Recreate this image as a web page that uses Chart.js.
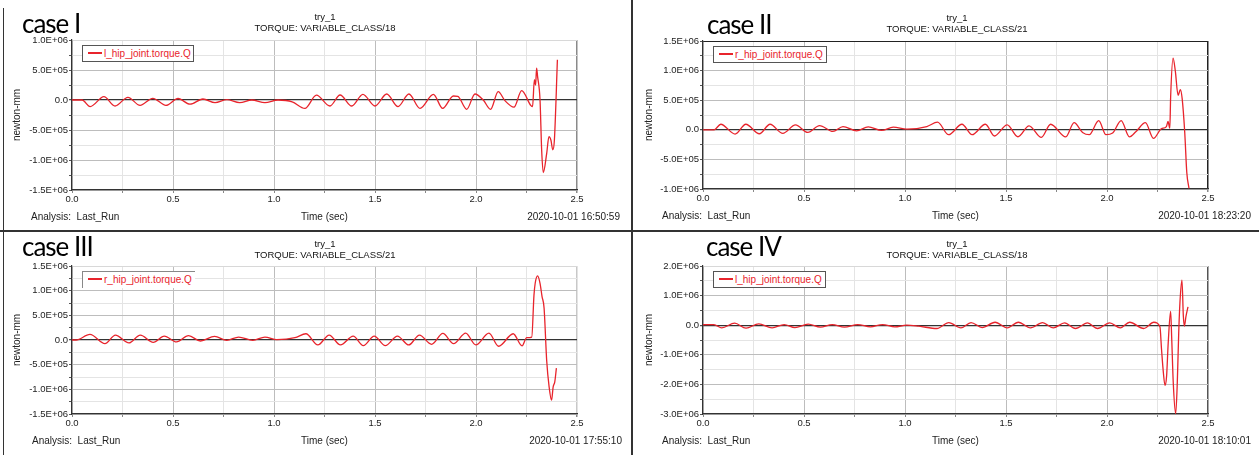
<!DOCTYPE html>
<html lang="en">
<head>
  <meta charset="UTF-8" />
  <title>try_1 - hip joint torque, cases I-IV</title>
  <script src="https://cdn.jsdelivr.net/npm/chart.js"></script>
  <style>
    body {
      margin: 0;
      background: #fff;
      font-family: "Liberation Sans", Arial, sans-serif;
    }
    #page {
      position: relative;
      width: 1259px;
      height: 455px;
      overflow: hidden;
      background: #fff;
    }
    canvas { position: absolute; }
    .case {
      position: absolute;
      font-family: Lato, sans-serif;
      font-size: 26px;
      line-height: 26px;
      letter-spacing: -1px;
      color: #000;
      white-space: nowrap;
    }
    .title {
      position: absolute;
      width: 300px;
      text-align: center;
      font-size: 9.5px;
      line-height: 11px;
      color: #111;
    }
    .foot {
      position: absolute;
      font-size: 10px;
      line-height: 12px;
      color: #222;
      white-space: pre;
    }
    .legend {
      position: absolute;
      height: 17px;
      box-sizing: border-box;
      border: 1px solid #555;
      background: #fff;
      font-size: 10px;
      line-height: 15px;
      color: #e8242c;
      white-space: nowrap;
    }
    .legend i {
      display: inline-block;
      width: 14px;
      height: 2px;
      background: #e8242c;
      vertical-align: middle;
      margin: 0 2px 0 5px;
      position: relative;
      top: -1px;
    }
    .rule { position: absolute; background: #333; }
  </style>
</head>
<body>
  <div id="page">
    <canvas id="chart1" width="630" height="228" style="left:0;top:0"></canvas>
    <canvas id="chart2" width="627" height="228" style="left:632px;top:0"></canvas>
    <canvas id="chart3" width="630" height="226" style="left:0;top:229px"></canvas>
    <canvas id="chart4" width="627" height="226" style="left:632px;top:229px"></canvas>

    <div class="case" style="left:22px;top:10px">case I</div>
    <div class="case" style="left:707px;top:11px">case II</div>
    <div class="case" style="left:22px;top:233px">case III</div>
    <div class="case" style="left:706px;top:233px">case IV</div>

    <div class="title" style="left:175px;top:11px">try_1<br>TORQUE: VARIABLE_CLASS/18</div>
    <div class="title" style="left:807px;top:12px">try_1<br>TORQUE: VARIABLE_CLASS/21</div>
    <div class="title" style="left:175px;top:238px">try_1<br>TORQUE: VARIABLE_CLASS/21</div>
    <div class="title" style="left:807px;top:238px">try_1<br>TORQUE: VARIABLE_CLASS/18</div>

    <div class="legend" style="left:82px;top:45px;width:112px"><i></i>l_hip_joint.torque.Q</div>
    <div class="legend" style="left:713px;top:46px;width:114px"><i></i>r_hip_joint.torque.Q</div>
    <div class="legend" style="left:82px;top:271px;width:113px;border-color:#888;border-right:none;border-bottom:none"><i></i>r_hip_joint.torque.Q</div>
    <div class="legend" style="left:713px;top:271px;width:113px"><i></i>l_hip_joint.torque.Q</div>

    <div class="foot" style="left:31px;top:211px">Analysis:  Last_Run</div>
    <div class="foot" style="right:639px;top:211px">2020-10-01 16:50:59</div>
    <div class="foot" style="left:662px;top:210px">Analysis:  Last_Run</div>
    <div class="foot" style="right:8px;top:210px">2020-10-01 18:23:20</div>
    <div class="foot" style="left:32px;top:435px">Analysis:  Last_Run</div>
    <div class="foot" style="right:637px;top:435px">2020-10-01 17:55:10</div>
    <div class="foot" style="left:662px;top:435px">Analysis:  Last_Run</div>
    <div class="foot" style="right:8px;top:435px">2020-10-01 18:10:01</div>

    <div class="rule" style="left:631px;top:0;width:2px;height:455px"></div>
    <div class="rule" style="left:0;top:230px;width:1259px;height:2px"></div>
    <div class="rule" style="left:3px;top:8px;width:1px;height:447px"></div>
  </div>

  <script>
    // valeurs (temps en s, couple en newton-mm)
    const case1Time = [0, 0.05, 0.09, 0.158, 0.213, 0.277, 0.337, 0.40, 0.465, 0.525, 0.584, 0.648, 0.708, 0.767, 0.83, 0.89, 0.955, 1.02, 1.09, 1.153, 1.21, 1.277, 1.327, 1.385, 1.44, 1.5, 1.558, 1.614, 1.668, 1.723, 1.789, 1.835, 1.888, 1.91, 1.954, 1.995, 2.036, 2.072, 2.11, 2.143, 2.188, 2.226, 2.272, 2.28, 2.289, 2.295, 2.3, 2.305, 2.317, 2.325, 2.333, 2.35, 2.361, 2.371, 2.38, 2.388, 2.403];
    const case1Torque = [0, 0, -1.1e5, 5.5e4, -1.0e5, 4.5e4, -9e4, 2.8e4, -9e4, 2.5e4, -7e4, 1.7e4, -4.5e4, 5e3, -4.5e4, 0, -4.5e4, 0, -3e4, -1.4e5, 8e4, -1e5, 8.3e4, -1e5, 9.4e4, -1e5, 1e5, -1.1e5, 1e5, -1.4e5, 9.4e4, -1.4e5, 6.7e4, 6e4, -1.55e5, 1e5, 0, -1.55e5, 1.4e5, -1e4, -1.2e5, 1.55e5, -9.4e4, -1.1e5, 3.4e5, 2.5e5, 5.3e5, 3.9e5, 0, -8.3e5, -1.21e6, -8.9e5, -6.1e5, -6.7e5, -8.3e5, -6.7e5, 6.7e5];

    const case2Time = [0, 0.055, 0.088, 0.159, 0.212, 0.279, 0.332, 0.395, 0.458, 0.519, 0.577, 0.643, 0.693, 0.76, 0.818, 0.884, 0.942, 1.009, 1.108, 1.161, 1.216, 1.282, 1.332, 1.398, 1.443, 1.506, 1.559, 1.614, 1.675, 1.721, 1.796, 1.837, 1.879, 1.912, 1.959, 1.995, 2.028, 2.07, 2.111, 2.144, 2.19, 2.23, 2.269, 2.294, 2.302, 2.311, 2.315, 2.327, 2.338, 2.352, 2.363, 2.372, 2.385, 2.395, 2.406];
    const case2Torque = [0, 0, 9.4e4, -7.2e4, 9.4e4, -6.7e4, 9.4e4, -6.1e4, 8.3e4, -4.4e4, 7.2e4, -2.8e4, 5.5e4, -1.7e4, 5e4, -1.1e4, 4.4e4, 1.1e4, 5.5e4, 1.28e5, -8.3e4, 9.4e4, -8.3e4, 9.4e4, -1.05e5, 8.3e4, -1.17e5, 6.7e4, -1.28e5, 9.4e4, -1.2e5, 1.2e5, -4.4e4, -8.3e4, 1.55e5, -8.3e4, -5.5e4, 1.55e5, -1.2e5, -2.8e4, 1.2e5, -1.45e5, 1.7e4, 5.5e4, 1.4e5, 2.8e4, 5.5e5, 1.21e6, 1.0e6, 5.8e5, 6.8e5, 5.3e5, -5.5e4, -7.2e5, -9.9e5];

    const case3Time = [0, 0.02, 0.089, 0.163, 0.215, 0.282, 0.338, 0.402, 0.457, 0.517, 0.577, 0.636, 0.706, 0.766, 0.825, 0.895, 0.955, 1.014, 1.104, 1.158, 1.217, 1.273, 1.329, 1.392, 1.442, 1.496, 1.551, 1.611, 1.667, 1.72, 1.78, 1.836, 1.889, 1.949, 1.999, 2.064, 2.112, 2.184, 2.228, 2.251, 2.276, 2.287, 2.293, 2.305, 2.317, 2.327, 2.337, 2.35, 2.362, 2.374, 2.382, 2.39, 2.398];
    const case3Torque = [0, 0, 1.13e5, -7.3e4, 1.0e5, -6e4, 1.0e5, -4.7e4, 8e4, -4e4, 8.7e4, -2e4, 7.3e4, -7e3, 6e4, -7e3, 6e4, 7e3, 4.7e4, 1.27e5, -1.0e5, 1.0e5, -1.0e5, 8e4, -1.13e5, 8e4, -1.13e5, 8e4, -1.0e5, 1.0e5, -8.7e4, 1.33e5, -7.3e4, 1.4e5, -1.0e5, 1.4e5, -1.27e5, 1.27e5, -1.2e5, 4.7e4, 6e4, 9.1e5, 1.15e6, 1.3e6, 1.15e6, 8.8e5, 6.5e5, -4.2e5, -9.5e5, -1.22e6, -9.5e5, -8.5e5, -5.7e5];

    const case4Time = [0, 0.054, 0.093, 0.157, 0.213, 0.276, 0.342, 0.402, 0.455, 0.521, 0.581, 0.64, 0.7, 0.766, 0.829, 0.889, 0.949, 1.008, 1.068, 1.158, 1.217, 1.277, 1.327, 1.382, 1.446, 1.506, 1.561, 1.621, 1.681, 1.734, 1.79, 1.844, 1.903, 1.953, 2.013, 2.066, 2.112, 2.182, 2.232, 2.262, 2.27, 2.279, 2.287, 2.295, 2.303, 2.315, 2.32, 2.328, 2.34, 2.348, 2.355, 2.361, 2.371, 2.378, 2.383, 2.391, 2.401];
    const case4Torque = [2e4, 2e4, -9e4, 6.7e4, -1.0e5, 4.5e4, -9e4, 2.2e4, -7.9e4, 3.4e4, -6.7e4, 2.2e4, -6.7e4, 2.2e4, -5.6e4, 2.2e4, -5.6e4, 0, -3.4e4, -1.12e5, 9e4, -9e4, 9e4, -7.9e4, 1.0e5, -9e4, 1.0e5, -9e4, 9e4, -9e4, 7.9e4, -1.12e5, 7.9e4, -1.12e5, 7.9e4, -9e4, 1.0e5, -1.12e5, 1.0e5, -5.6e4, -8.2e5, -1.6e6, -2.03e6, -1.72e6, -6e5, 4.7e5, -3.7e5, -1.94e6, -2.99e6, -1.94e6, -2.6e5, 7.5e5, 1.52e6, 3e5, -3e4, 3e5, 6.2e5];

    // bornes des axes y : [min, max, pas des libellés]
    const case1Range = [-1.5e6, 1.0e6, 5e5];
    const case2Range = [-1.0e6, 1.5e6, 5e5];
    const case3Range = [-1.5e6, 1.5e6, 5e5];
    const case4Range = [-3.0e6, 2.0e6, 1e6];

    const seriesNames = ["l_hip_joint.torque.Q", "r_hip_joint.torque.Q", "r_hip_joint.torque.Q", "l_hip_joint.torque.Q"];

    Chart.defaults.font.family = "'Liberation Sans', Arial, sans-serif";

    const RED = "#e8242c";
    const X_AXIS_H = 33;

    function isMultiple(v, step) {
      return Math.abs(v / step - Math.round(v / step)) < 1e-6;
    }

    function sciLabel(v) {
      if (Math.abs(v) < 1) return "0.0";
      const e = Math.floor(Math.log10(Math.abs(v)) + 1e-9);
      const m = v / Math.pow(10, e);
      return m.toFixed(1) + "E" + (e < 0 ? "-" : "+") + String(Math.abs(e)).padStart(2, "0");
    }

    function makePanel(id, name, time, torque, range, area, edges) {
      const canvas = document.getElementById(id);
      const W = canvas.width, H = canvas.height;
      const [yMin, yMax, yLabelStep] = range;

      return new Chart(canvas, {
        type: "line",
        data: {
          datasets: [{
            label: name,
            data: time.map((t, i) => ({ x: t, y: torque[i] })),
            borderColor: RED,
            borderWidth: 1.3,
            pointRadius: 0,
            fill: false,
            cubicInterpolationMode: "monotone"
          }]
        },
        options: {
          responsive: false,
          animation: false,
          devicePixelRatio: 1,
          layout: {
            autoPadding: false,
            padding: { left: 0, top: area.top, right: W - area.right, bottom: H - area.bottom - X_AXIS_H }
          },
          plugins: {
            legend: { display: false },
            tooltip: { enabled: false }
          },
          scales: {
            x: {
              type: "linear",
              min: 0,
              max: 2.5,
              afterFit: s => { s.height = X_AXIS_H; },
              ticks: {
                stepSize: 0.25,
                autoSkip: false,
                maxRotation: 0,
                padding: 1,
                color: "#222",
                font: { size: 9.5 },
                callback: v => isMultiple(v, 0.5) ? v.toFixed(1) : ""
              },
              grid: {
                color: c => isMultiple(c.tick.value, 2.5) && c.tick.value > 0 ? edges.right
                  : isMultiple(c.tick.value, 0.5) ? "#bdbdbd" : "#e4e4e4",
                lineWidth: c => c.tick.value === 2.5 ? 1.5 : 1,
                tickLength: 3,
                tickColor: "#888"
              },
              border: { color: "#333", width: 1.2 },
              title: {
                display: true,
                text: "Time (sec)",
                color: "#222",
                font: { size: 10 },
                padding: { top: 0, bottom: 0 }
              }
            },
            y: {
              min: yMin,
              max: yMax,
              afterFit: s => { s.width = area.left; },
              ticks: {
                stepSize: yLabelStep / 2,
                autoSkip: false,
                padding: 1,
                color: "#222",
                font: { size: 9.5 },
                callback: v => isMultiple(v, yLabelStep) ? sciLabel(v) : ""
              },
              grid: {
                color: c => {
                  const v = c.tick.value;
                  if (Math.abs(v) < 1) return "#333";
                  if (v === yMax) return edges.top;
                  return isMultiple(v, yLabelStep) ? "#bdbdbd" : "#e4e4e4";
                },
                lineWidth: c => Math.abs(c.tick.value) < 1 ? 1.3 : 1,
                tickLength: 3,
                tickColor: "#555"
              },
              border: { color: "#333", width: 1.2 },
              title: {
                display: true,
                text: "newton-mm",
                color: "#222",
                font: { size: 10 },
                padding: { top: 11, bottom: 0 }
              }
            }
          }
        }
      });
    }

    makePanel("chart1", seriesNames[0], case1Time, case1Torque, case1Range,
      { left: 72, right: 577, top: 40, bottom: 190 }, { top: "#d8d8d8", right: "#8a8a8a" });
    makePanel("chart2", seriesNames[1], case2Time, case2Torque, case2Range,
      { left: 71, right: 576, top: 41, bottom: 189 }, { top: "#222", right: "#222" });
    makePanel("chart3", seriesNames[2], case3Time, case3Torque, case3Range,
      { left: 72, right: 577, top: 37, bottom: 185 }, { top: "#d8d8d8", right: "#c8c8c8" });
    makePanel("chart4", seriesNames[3], case4Time, case4Torque, case4Range,
      { left: 71, right: 576, top: 37, bottom: 185 }, { top: "#d8d8d8", right: "#555" });
  </script>
</body>
</html>
